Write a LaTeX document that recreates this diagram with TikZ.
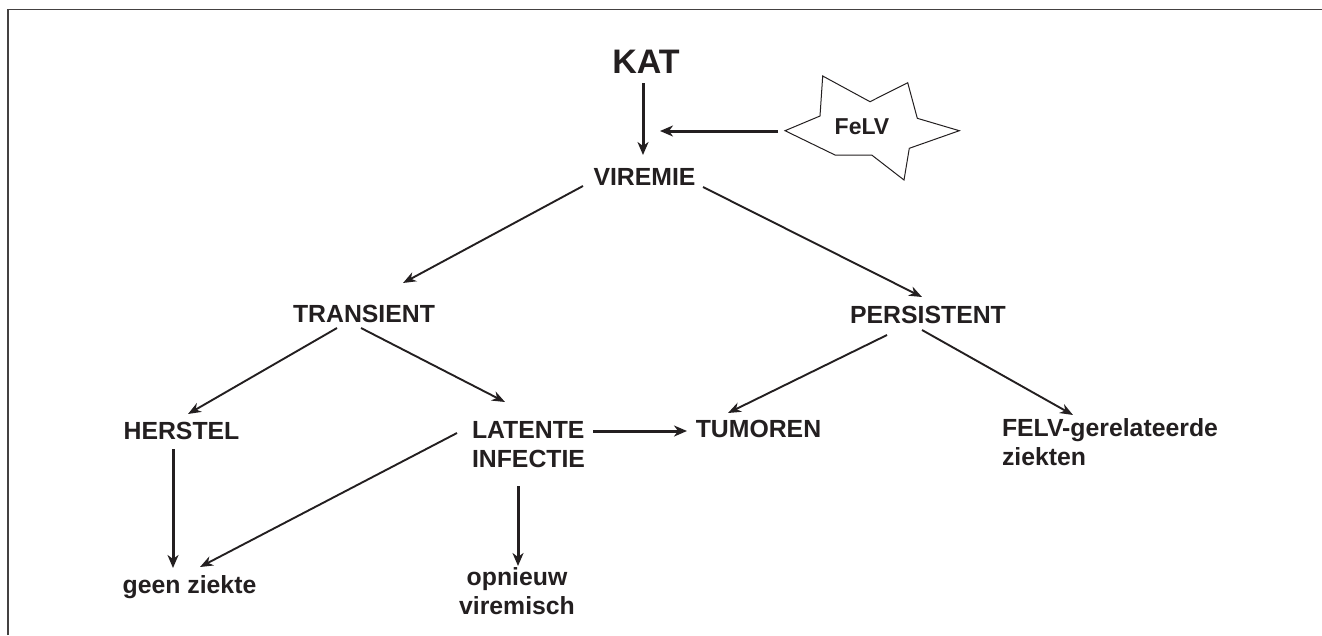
\documentclass[tikz,border=0pt]{standalone}
\usepackage{fontspec}
\setmainfont{Liberation Sans}
\usetikzlibrary{arrows.meta}
\definecolor{ink}{HTML}{231F20}
\begin{document}
\begin{tikzpicture}[x=1pt,y=-1pt,
  lbl/.style={inner sep=0pt,outer sep=0pt,text=ink,font=\bfseries\fontsize{24.8}{29}\selectfont},
  thickarr/.style={draw=ink,line width=3pt,-{Stealth[length=13pt,width=11pt,inset=4pt]}},
  thinarr/.style={draw=ink,line width=1.9pt,-{Stealth[length=13pt,width=10pt,inset=4pt]}},
  frameline/.style={draw=ink!85,line width=1.8pt},
  starline/.style={draw=ink,line width=1pt,fill=white}]
\useasboundingbox (0,0) rectangle (1322,635);
\draw[frameline] (8,635) -- (8,9.5) -- (1322,9.5);
% star
\draw[starline] (785,130.7) -- (820,116) -- (822.7,76) -- (870,101.7) -- (907.7,82.7) -- (917.3,118.3) -- (959.3,130.7) -- (909.3,148.3) -- (904,180) -- (871.7,155) -- (835,155) -- cycle;
% nodes
\node[lbl,anchor=base,font=\bfseries\fontsize{34}{40}\selectfont] (kat) at (646,73) {KAT};
\node[lbl,anchor=base,font=\bfseries\fontsize{23}{28}\selectfont] (felv) at (862,134) {FeLV};
\node[lbl,anchor=base] (vir) at (644.5,185) {VIREMIE};
\node[lbl,anchor=base] (tra) at (364,322) {TRANSIENT};
\node[lbl,anchor=base] (per) at (928,323) {PERSISTENT};
\node[lbl,anchor=base] (her) at (181.5,439) {HERSTEL};
\node[lbl,anchor=north west,align=left] (lat) at (472,421) {LATENTE\\INFECTIE};
\node[lbl,anchor=base] (tum) at (758.5,437) {TUMOREN};
\node[lbl,anchor=north west,align=left] (fel) at (1002,419) {FELV-gerelateerde\\ziekten};
\node[lbl,anchor=base] (gz) at (189.5,593) {geen ziekte};
\node[lbl,anchor=north,align=center] (opn) at (517,568) {opnieuw\\viremisch};
\coordinate (join) at (660,131);
% connectors
\draw[thickarr] ([shift={(-3,10)}]kat.base) -- ([shift={(-1.5,-30)}]vir.base);
\draw[thickarr] ([shift={(-84,-3)}]felv.base) -- (join);
\draw[thinarr] ([shift={(-61.5,1)}]vir.base) -- ([shift={(39,-39)}]tra.base);
\draw[thinarr] ([shift={(58.5,2)}]vir.base) -- ([shift={(-6,-26)}]per.base);
\draw[thinarr] ([shift={(-27,6)}]tra.base) -- ([shift={(6.5,-25)}]her.base);
\draw[thinarr] ([shift={(-3,6)}]tra.base) -- ([shift={(33,-19)}]lat.north west);
\draw[thinarr] ([shift={(-41,12)}]per.base) -- ([shift={(-30.5,-24)}]tum.base);
\draw[thinarr] ([shift={(-6,7)}]per.base) -- ([shift={(71,-4)}]fel.north west);
\draw[thickarr] ([shift={(121,10)}]lat.north west) -- ([shift={(-71.5,-6)}]tum.base);
\draw[thickarr] ([shift={(-8.5,10)}]her.base) -- ([shift={(-16.5,-25)}]gz.base);
\draw[thinarr] ([shift={(-15,12)}]lat.north west) -- ([shift={(10.5,-26)}]gz.base);
\draw[thickarr] ([shift={(46,65)}]lat.north west) -- ([shift={(1,-2)}]opn.north);
\end{tikzpicture}
\end{document}
